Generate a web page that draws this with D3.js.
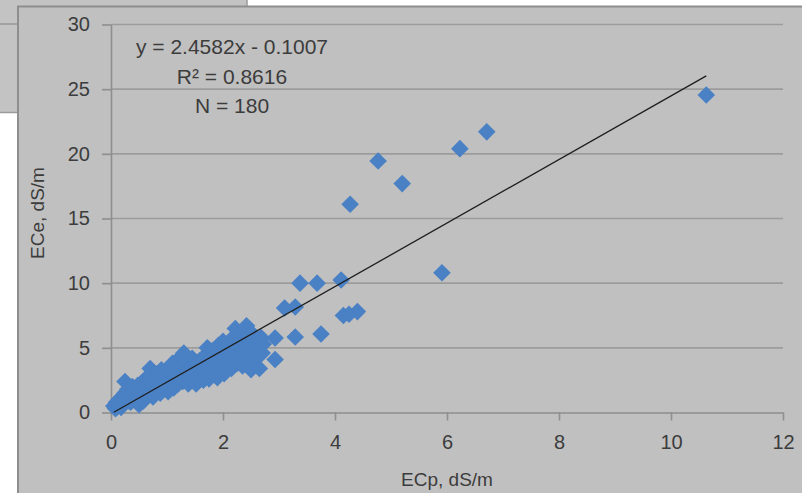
<!DOCTYPE html>
<html>
<head>
<meta charset="utf-8">
<script src="https://cdn.jsdelivr.net/npm/d3@7"></script>
<style>
  body { margin: 0; background: #ffffff; }
  svg text { font-family: "Liberation Sans", Arial, sans-serif; fill: #3c3c3c; }
</style>
</head>
<body>
<div id="vis"></div>
<script>
// ECp (x) and ECe (y), dS/m
var ecp = [
  0.05, 0.08, 0.1, 0.12, 0.15, 0.18, 0.2, 0.22, 0.25, 0.25, 0.28, 0.3, 0.32, 0.35, 0.38, 0.4, 0.42, 0.45, 0.48, 0.5, 0.5,
  0.55, 0.55, 0.58, 0.6, 0.62, 0.65, 0.68, 0.7, 0.7, 0.72, 0.75, 0.78, 0.8, 0.8, 0.82, 0.85, 0.88, 0.9, 0.9, 0.92, 0.95, 0.98, 1.0, 1.0,
  1.02, 1.05, 1.05, 1.08, 1.1, 1.1, 1.12, 1.15, 1.18, 1.2, 1.2, 1.22, 1.25, 1.28, 1.3, 1.3, 1.32, 1.35, 1.38, 1.4, 1.42, 1.45, 1.45, 1.48, 1.5,
  1.5, 1.52, 1.55, 1.58, 1.6, 1.62, 1.65, 1.68, 1.7, 1.72, 1.75, 1.75, 1.78, 1.8, 1.82, 1.85, 1.88, 1.9, 1.9, 1.92, 1.95, 1.98, 2.0, 2.0,
  2.02, 2.05, 2.08, 2.1, 2.12, 2.15, 2.18, 2.2, 2.22, 2.25, 2.25, 2.28, 2.3, 2.32, 2.35, 2.38, 2.4, 2.42, 2.45, 2.45, 2.48, 2.5, 2.5,
  2.52, 2.55, 2.58, 2.6, 2.62, 2.65, 2.68, 2.7, 2.72,
  0.1, 0.15, 0.2, 0.3, 0.35, 0.4, 0.45, 0.5, 0.55, 0.6, 0.65, 0.7, 0.75, 0.8, 0.85, 0.9, 0.95, 1.0, 1.05, 1.1, 1.15, 1.2, 1.25, 1.3,
  1.35, 1.4, 1.55, 1.6, 1.7, 1.8, 1.85, 1.95, 2.1, 2.3, 2.4,
  2.93, 2.93, 3.1, 3.29, 3.29, 3.375, 3.68, 3.75, 4.11, 4.15, 4.25, 4.4, 4.27, 4.77, 5.2, 5.91, 6.23, 6.71, 10.63
];
var ece = [
  0.5, 0.3, 0.8, 0.6, 1.0, 0.4, 1.2, 0.7, 2.4, 1.5, 1.0, 1.8, 0.9, 1.3, 2.0, 1.0, 1.6, 1.2, 2.1, 0.6, 1.7,
  1.4, 2.3, 0.9, 1.9, 2.6, 1.3, 2.1, 3.4, 1.6, 2.8, 1.2, 2.4, 3.0, 1.8, 2.2, 2.9, 1.5, 2.5, 3.3, 2.0, 2.7, 1.8, 3.1, 2.3,
  1.6, 2.8, 3.5, 2.1, 3.8, 2.5, 1.9, 3.2, 2.6, 4.1, 2.2, 3.0, 3.6, 2.4, 4.6, 3.3, 2.8, 3.9, 2.2, 3.5, 2.9, 4.2, 2.5, 3.2, 3.8,
  2.7, 2.2, 3.4, 4.0, 2.9, 3.6, 2.5, 4.4, 3.1, 5.0, 3.8, 2.6, 4.2, 3.3, 4.8, 2.9, 3.6, 4.5, 2.7, 5.2, 3.9, 3.2, 4.3, 5.5,
  3.0, 4.7, 3.6, 5.2, 4.0, 3.4, 5.8, 4.4, 6.5, 3.8, 5.0, 4.6, 6.0, 4.2, 3.6, 5.4, 4.8, 6.7, 4.0, 5.8, 4.5, 5.2, 3.3,
  6.1, 4.7, 5.5, 4.2, 5.0, 3.4, 5.8, 4.6, 5.3,
  0.4, 0.6, 0.9, 1.2, 0.8, 1.4, 1.8, 1.1, 1.9, 1.5, 1.8, 2.3, 2.0, 2.5, 1.9, 2.2, 2.4, 2.7, 2.4, 2.9, 2.7, 3.3, 2.7, 3.0,
  3.1, 3.0, 3.7, 3.5, 3.6, 4.1, 4.0, 4.6, 4.5, 5.2, 5.5,
  5.76, 4.1, 8.08, 8.16, 5.84, 10.0, 10.0, 6.07, 10.25, 7.5, 7.6, 7.8, 16.1, 19.45, 17.7, 10.8, 20.4, 21.7, 24.55
];

var xTicks = [0, 2, 4, 6, 8, 10, 12];
var yTicks = [0, 5, 10, 15, 20, 25, 30];
var slope = 2.4582, intercept = -0.1007;
var noteLines = ["y = 2.4582x - 0.1007", "R\u00B2 = 0.8616", "N = 180"];

var width = 802, height = 493;
var plot = {left: 111, right: 783, top: 24.5, bottom: 412.5};

var svg = d3.select("#vis")
    .append("svg")
    .attr("width", width)
    .attr("height", height);

// panel sticking out behind the chart
svg.append("rect")
    .attr("x", -2).attr("y", -2)
    .attr("width", 249).attr("height", 114.5)
    .attr("fill", "#c3c3c3")
    .attr("stroke", "#9a9a9a")
    .attr("stroke-width", 1.5);
svg.append("line")
    .attr("x1", 0).attr("x2", 20)
    .attr("y1", 24).attr("y2", 24)
    .attr("stroke", "#a2a2a2")
    .attr("stroke-width", 2);

// chart area
svg.append("rect")
    .attr("x", 18).attr("y", 6.5)
    .attr("width", 800).attr("height", 500)
    .attr("fill", "#c0c0c0")
    .attr("stroke", "#8e8e8e")
    .attr("stroke-width", 2);

var x = d3.scaleLinear().domain([0, 12]).range([plot.left, plot.right]);
var y = d3.scaleLinear().domain([0, 30]).range([plot.bottom, plot.top]);

// gridlines
svg.append("g")
    .selectAll("line")
    .data(yTicks.slice(1))
    .enter()
    .append("line")
    .attr("x1", plot.left).attr("x2", plot.right)
    .attr("y1", y).attr("y2", y)
    .attr("stroke", "#9c9c9c")
    .attr("stroke-width", 1.6);

var yAxis = svg.append("g")
    .attr("transform", "translate(" + plot.left + ",0)")
    .call(d3.axisLeft(y).tickValues(yTicks).tickSize(9).tickPadding(12).tickSizeOuter(0));

var xAxis = svg.append("g")
    .attr("transform", "translate(0," + plot.bottom + ")")
    .call(d3.axisBottom(x).tickValues(xTicks).tickSize(8).tickPadding(14).tickSizeOuter(0));

[xAxis, yAxis].forEach(function (g) {
    g.selectAll("path, line").attr("stroke", "#8e8e8e").attr("stroke-width", 1.6);
    g.selectAll("text").attr("font-size", 20).attr("fill", "#3c3c3c").attr("font-family", "Liberation Sans, Arial, sans-serif");
});

// axis titles
svg.append("text")
    .attr("x", (plot.left + plot.right) / 2)
    .attr("y", 486)
    .attr("text-anchor", "middle")
    .attr("font-size", 19)
    .text("ECp, dS/m");

svg.append("text")
    .attr("transform", "translate(44," + 213 + ") rotate(-90)")
    .attr("text-anchor", "middle")
    .attr("font-size", 19)
    .text("ECe, dS/m");

// points
var pts = ecp.map(function (d, i) { return {x: d, y: ece[i]}; });
var r = 8.8;
svg.append("g")
    .selectAll("path")
    .data(pts)
    .enter()
    .append("path")
    .attr("d", "M0," + (-r) + "L" + r + ",0L0," + r + "L" + (-r) + ",0Z")
    .attr("transform", function (d) { return "translate(" + x(d.x) + "," + y(d.y) + ")"; })
    .attr("fill", "#4a80c4");

// linear trendline
var xMin = d3.min(ecp), xMax = d3.max(ecp);
svg.append("line")
    .attr("x1", x(xMin)).attr("y1", y(slope * xMin + intercept))
    .attr("x2", x(xMax)).attr("y2", y(slope * xMax + intercept))
    .attr("stroke", "#1e1e1e")
    .attr("stroke-width", 1.3);

// equation label
svg.append("g")
    .selectAll("text")
    .data(noteLines)
    .enter()
    .append("text")
    .attr("x", 232)
    .attr("y", function (d, i) { return 54 + i * 29.5; })
    .attr("text-anchor", "middle")
    .attr("font-size", 21)
    .text(function (d) { return d; });
</script>
</body>
</html>
